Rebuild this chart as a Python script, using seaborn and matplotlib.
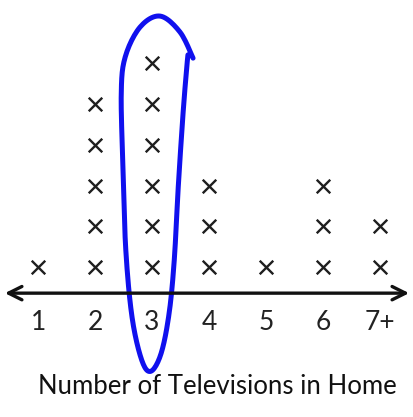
import numpy as np
import pandas as pd
import matplotlib
matplotlib.use("Agg")
import matplotlib.pyplot as plt
import seaborn as sns

# number of TVs in home -> how many X marks above it
tv_labels = ["1", "2", "3", "4", "5", "6", "7+"]
tv_counts = [1, 5, 6, 3, 1, 3, 2]

# hand drawn blue loop around the "3" column (offsets from column centre, stack rows)
loop_dx = [0.72, 0.49, 0.14, -0.21, -0.47, -0.54, -0.51, -0.46, -0.35, -0.18, -0.02,
           0.16, 0.30, 0.39, 0.46, 0.54, 0.60, 0.63]
loop_y = [6.12, 6.76, 7.15, 6.88, 6.15, 5.26, 3.45, 1.42, -0.23, -1.28, -1.55,
          -1.11, -0.13, 1.17, 2.96, 4.68, 5.75, 6.20]
circled = "3"

# one row per X mark
rows = []
for i, (lab, n) in enumerate(zip(tv_labels, tv_counts)):
    for k in range(1, n + 1):
        rows.append({"tvs": lab, "pos": i, "stack": k})
df = pd.DataFrame(rows)

sns.set_style("white")
plt.rcParams["font.family"] = ["Lato", "DejaVu Sans"]

fig = plt.figure(figsize=(4.14, 4.17), dpi=100)
ax = fig.add_axes([0, 0.297, 1, 0.703])

sns.scatterplot(data=df, x="pos", y="stack", marker="x", s=95, linewidth=1.7,
                color="#1e1e1e", ax=ax, legend=False, clip_on=False)

ax.set_xlim(-0.667, 6.596)
ax.set_ylim(0.363, 7.544)
sns.despine(ax=ax, left=True, bottom=True, top=True, right=True)
ax.set_yticks([])
ax.set_xticks(range(len(tv_labels)), tv_labels, fontsize=19, color="#222222")
ax.tick_params(axis="x", length=0, pad=12)
ax.set_xlabel("Number of Televisions in Home", fontsize=18.5, color="#111111")
ax.xaxis.set_label_coords(0.525, -0.275)
ax.set_ylabel("")

# number line with arrows at both ends
ax.annotate("", xy=(0.005, 0), xytext=(0.995, 0), xycoords="axes fraction",
            arrowprops=dict(arrowstyle="<->", lw=2.4, color="#111111", mutation_scale=24))


# smooth the loop with catmull-rom
def catmull(xs, ys, n=12):
    p = np.column_stack([xs, ys])
    p = np.vstack([p[0], p, p[-1]])
    out = []
    for i in range(1, len(p) - 2):
        p0, p1, p2, p3 = p[i - 1], p[i], p[i + 1], p[i + 2]
        for t in np.linspace(0, 1, n, endpoint=False):
            out.append(0.5 * ((2 * p1) + (-p0 + p2) * t + (2 * p0 - 5 * p1 + 4 * p2 - p3) * t ** 2
                              + (-p0 + 3 * p1 - 3 * p2 + p3) * t ** 3))
    out.append(p[-2])
    return np.array(out)


cx = tv_labels.index(circled)
pts = catmull(np.array(loop_dx) + cx, loop_y)
ax.plot(pts[:, 0], pts[:, 1], color="#1010ee", lw=3.6, solid_capstyle="round",
        solid_joinstyle="round", clip_on=False)

fig.savefig("out.png", dpi=100)
